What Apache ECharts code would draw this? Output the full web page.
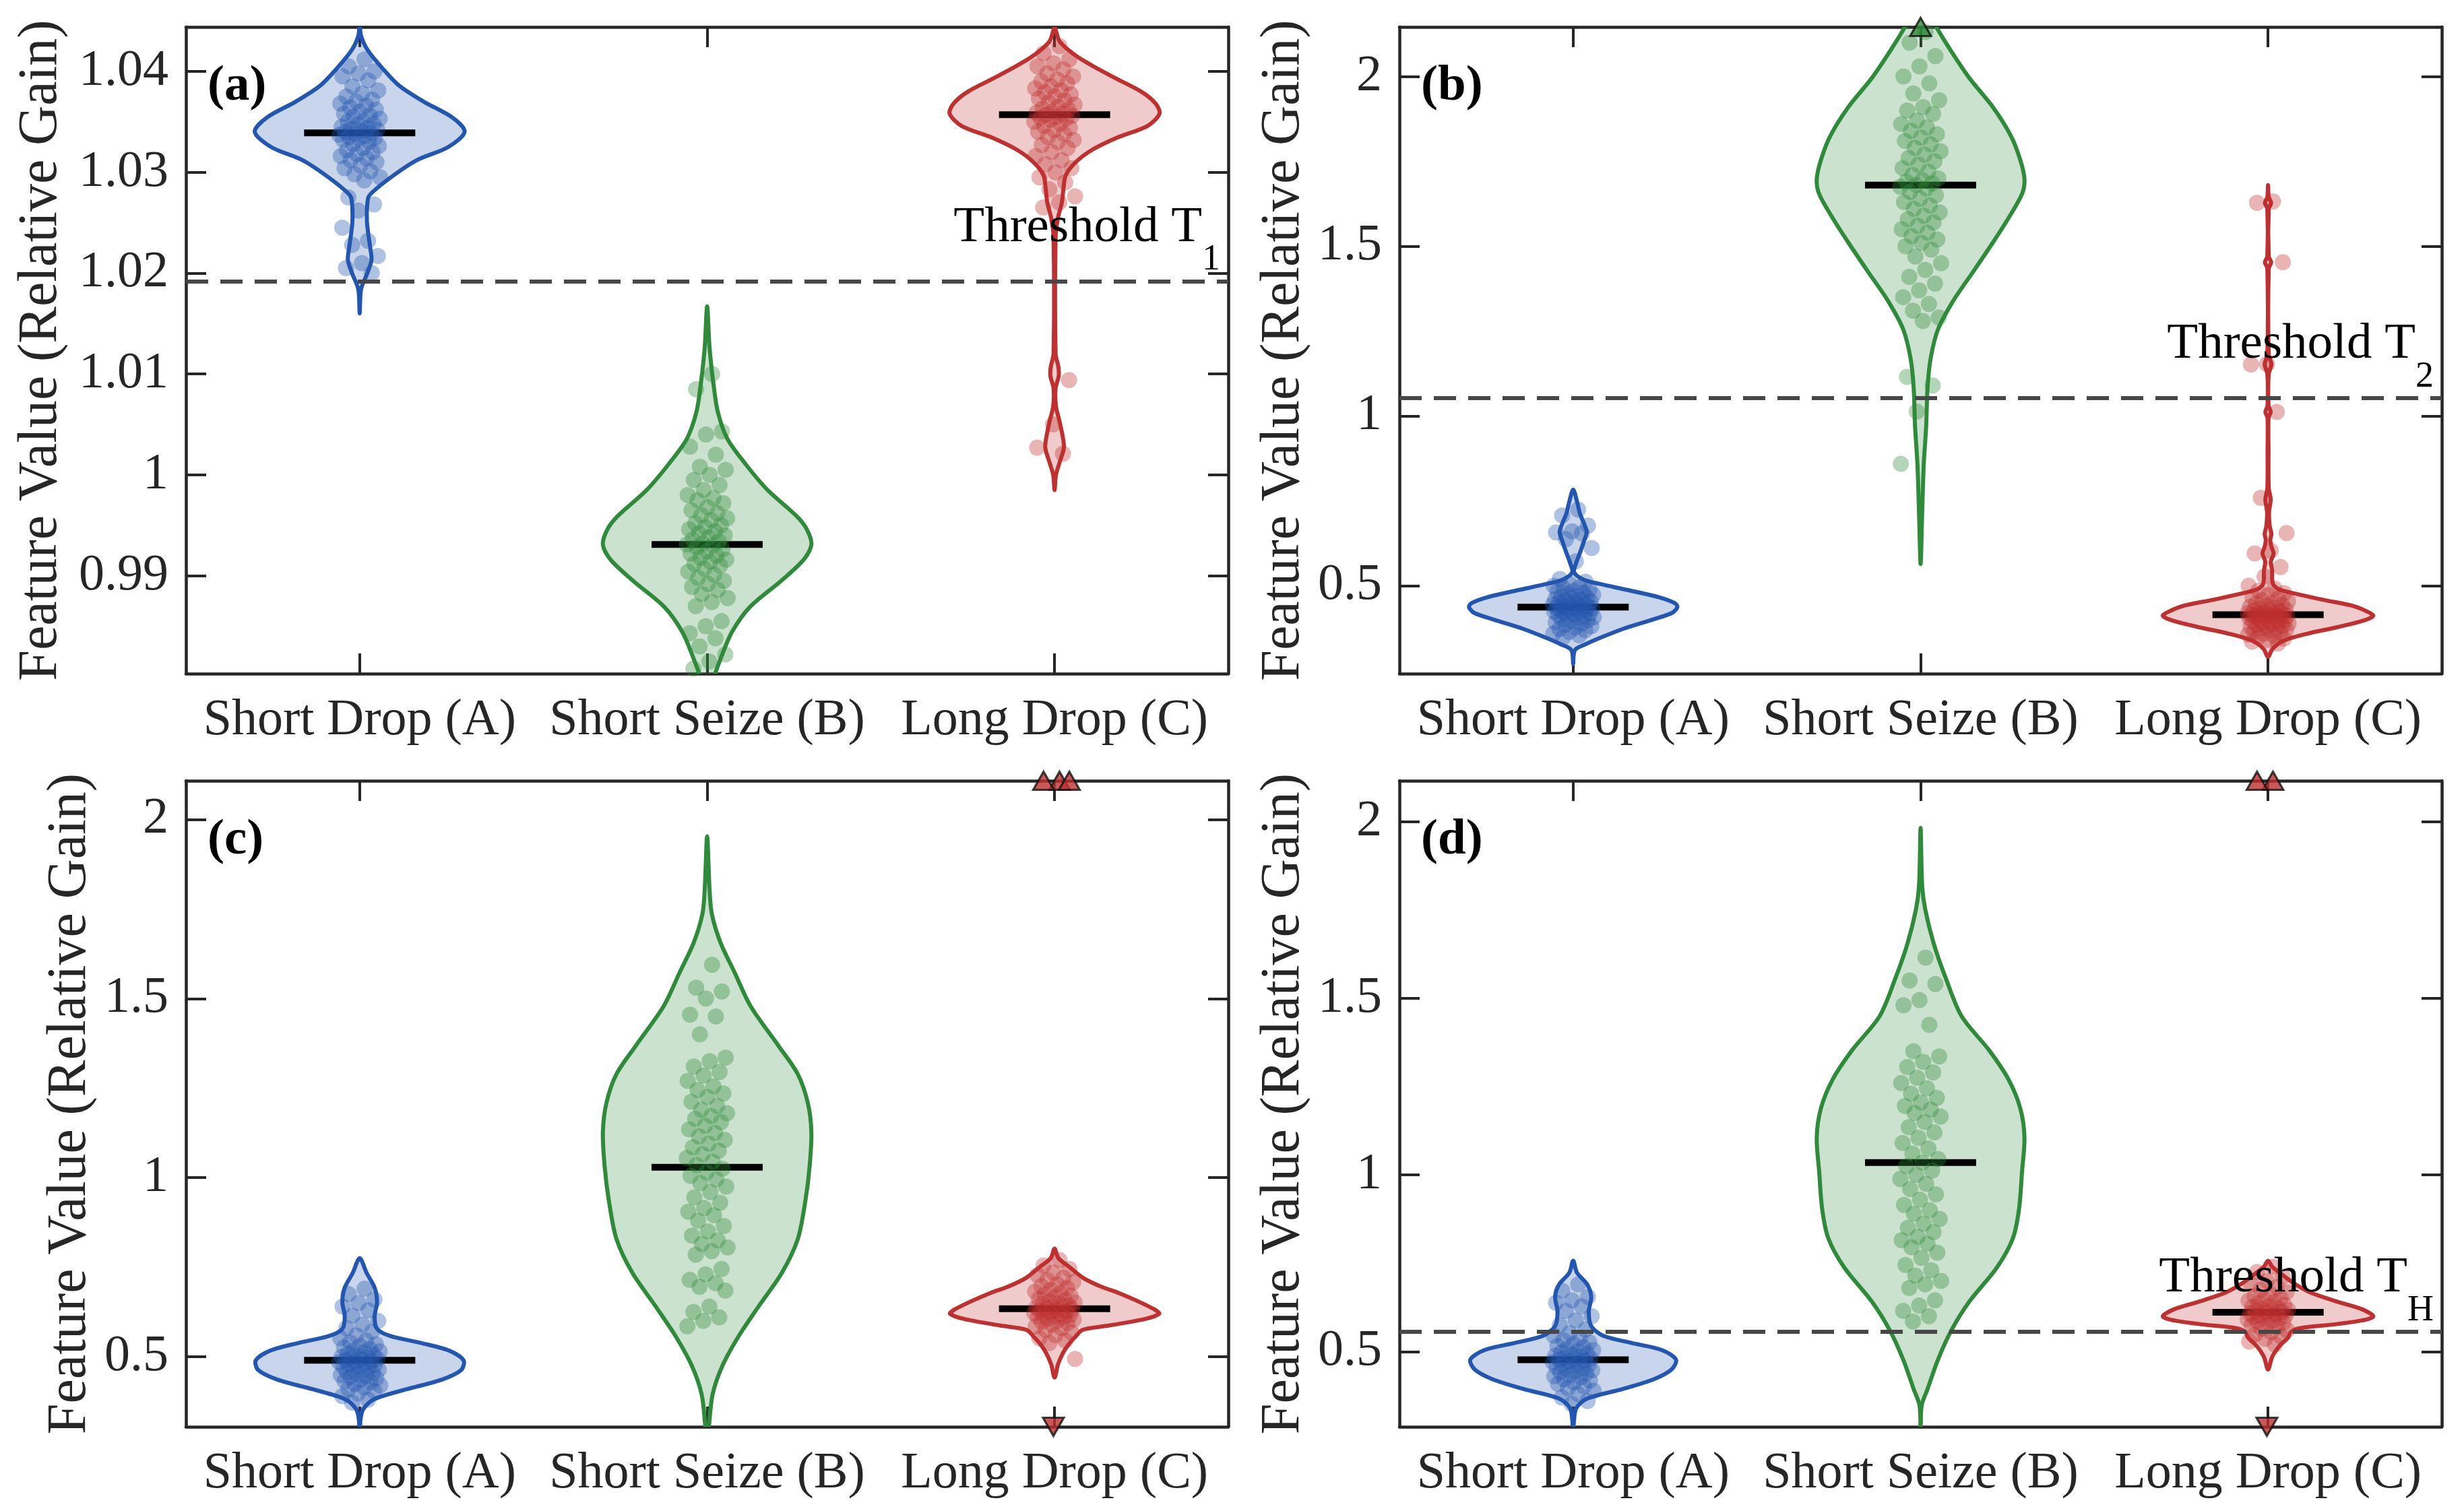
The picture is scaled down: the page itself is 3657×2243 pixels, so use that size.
<!DOCTYPE html>
<html>
<head>
<meta charset="utf-8">
<script src="https://cdn.jsdelivr.net/npm/echarts@6/dist/echarts.min.js"></script>
<style>html,body{margin:0;padding:0;background:#fff;}#chart{width:3657px;height:2243px;}</style>
</head>
<body>
<div id="chart"></div>
<script>
// ---------------- DATA ----------------
const categories = ['Short Drop (A)', 'Short Seize (B)', 'Long Drop (C)'];
const panelLetters = ['(a)', '(b)', '(c)', '(d)'];
const yAxisTitle = 'Feature Value (Relative Gain)';
const thresholdText = 'Threshold T';

const yRanges = [[0.9803, 1.0444], [0.241, 2.146], [0.3045, 2.108], [0.287, 2.1155]];
const yTickValues = [[0.99, 1.00, 1.01, 1.02, 1.03, 1.04], [0.5, 1, 1.5, 2], [0.5, 1, 1.5, 2], [0.5, 1, 1.5, 2]];
const thresholdValues = [1.0192, 1.0527, null, 0.5561];
const thresholdSubs = ['1', '2', null, 'H'];

const medians = [
  [1.0339, 0.9931, 1.0357],
  [0.437, 1.680, 0.4146],
  [0.490, 1.029, 0.634],
  [0.4766, 1.035, 0.611]
];

// scatter values
const a_A_pts = [1.0412,1.0405,1.0400,1.0398,1.0395,1.0391,1.0385,1.0381,1.0378,1.0375,1.0372,1.0370,1.0368,1.0366,1.0364,1.0362,1.0360,1.0358,1.0356,1.0355,1.0353,1.0351,1.0350,1.0348,1.0347,1.0345,1.0344,1.0343,1.0342,1.0341,1.0340,1.0339,1.0338,1.0337,1.0336,1.0335,1.0334,1.0333,1.0332,1.0330,1.0328,1.0326,1.0324,1.0322,1.0320,1.0318,1.0316,1.0314,1.0312,1.0310,1.0307,1.0304,1.0301,1.0298,1.0295,1.0292,1.0275,1.0268,1.0262,1.0245,1.0232,1.0228,1.0217,1.0210,1.0205,1.0200];
const a_B_pts = [1.0100,1.0085,1.0043,1.0040,1.0028,1.0020,1.0008,1.0005,1.0000,0.9995,0.9990,0.9985,0.9980,0.9977,0.9975,0.9972,0.9968,0.9965,0.9962,0.9960,0.9957,0.9955,0.9952,0.9950,0.9948,0.9946,0.9944,0.9942,0.9940,0.9938,0.9936,0.9934,0.9932,0.9931,0.9930,0.9928,0.9926,0.9924,0.9922,0.9920,0.9918,0.9916,0.9914,0.9912,0.9910,0.9907,0.9904,0.9901,0.9898,0.9895,0.9892,0.9889,0.9886,0.9882,0.9878,0.9874,0.9870,0.9855,0.9850,0.9843,0.9838,0.9830,0.9822,0.9815,0.9808];
const a_C_pts = [1.0425,1.0418,1.0412,1.0408,1.0405,1.0402,1.0398,1.0395,1.0392,1.0390,1.0388,1.0385,1.0383,1.0381,1.0379,1.0377,1.0375,1.0373,1.0371,1.0369,1.0367,1.0365,1.0363,1.0362,1.0360,1.0359,1.0358,1.0357,1.0356,1.0355,1.0354,1.0353,1.0352,1.0350,1.0348,1.0346,1.0344,1.0342,1.0340,1.0338,1.0335,1.0332,1.0330,1.0327,1.0324,1.0320,1.0316,1.0312,1.0308,1.0304,1.0300,1.0295,1.0290,1.0283,1.0276,1.0270,1.0265,1.0094,1.0050,1.0027,1.0021];

const b_A_pts = [0.724,0.707,0.677,0.660,0.657,0.654,0.637,0.611,0.572,0.520,0.512,0.505,0.500,0.496,0.492,0.488,0.485,0.482,0.479,0.476,0.473,0.470,0.468,0.465,0.463,0.460,0.458,0.456,0.454,0.452,0.450,0.448,0.446,0.444,0.442,0.440,0.438,0.437,0.436,0.435,0.434,0.433,0.432,0.430,0.428,0.426,0.424,0.422,0.420,0.418,0.416,0.414,0.412,0.410,0.407,0.404,0.401,0.398,0.395,0.392,0.389,0.385,0.381,0.377,0.373,0.369,0.364,0.359,0.354,0.348];
const b_B_pts = [2.131,2.10,2.06,2.03,2.00,1.98,1.95,1.93,1.91,1.90,1.89,1.87,1.86,1.85,1.84,1.83,1.82,1.81,1.80,1.79,1.78,1.77,1.76,1.75,1.74,1.73,1.72,1.71,1.70,1.695,1.69,1.685,1.68,1.675,1.67,1.66,1.65,1.64,1.63,1.62,1.61,1.60,1.59,1.58,1.57,1.56,1.55,1.54,1.53,1.52,1.51,1.50,1.49,1.47,1.45,1.43,1.41,1.39,1.37,1.35,1.33,1.31,1.29,1.28,1.115,1.09,1.013,0.859];
const b_C_pts = [1.632,1.628,1.453,1.153,1.152,1.012,0.759,0.655,0.603,0.595,0.555,0.527,0.500,0.492,0.485,0.478,0.472,0.467,0.462,0.458,0.454,0.450,0.447,0.444,0.441,0.438,0.435,0.432,0.430,0.428,0.426,0.424,0.422,0.420,0.418,0.417,0.416,0.415,0.414,0.413,0.412,0.411,0.410,0.409,0.408,0.407,0.405,0.403,0.401,0.399,0.397,0.395,0.393,0.391,0.389,0.387,0.385,0.383,0.381,0.379,0.377,0.374,0.371,0.368,0.365,0.362,0.359,0.356,0.352,0.348,0.344,0.340,0.335,0.330];

const c_A_pts = [0.690,0.675,0.660,0.650,0.640,0.630,0.615,0.600,0.590,0.580,0.570,0.560,0.552,0.545,0.540,0.535,0.530,0.526,0.522,0.518,0.515,0.512,0.509,0.506,0.503,0.500,0.498,0.496,0.494,0.492,0.490,0.488,0.486,0.484,0.482,0.480,0.478,0.476,0.473,0.470,0.467,0.464,0.461,0.458,0.455,0.452,0.449,0.446,0.443,0.440,0.436,0.432,0.428,0.424,0.420,0.415,0.410,0.404,0.398,0.390,0.380,0.372];
const c_B_pts = [1.594,1.530,1.520,1.500,1.455,1.450,1.400,1.335,1.325,1.310,1.295,1.285,1.270,1.255,1.245,1.235,1.225,1.212,1.200,1.190,1.180,1.172,1.165,1.155,1.145,1.135,1.125,1.115,1.105,1.095,1.085,1.075,1.065,1.055,1.045,1.035,1.025,1.015,1.005,0.995,0.985,0.975,0.960,0.945,0.930,0.915,0.905,0.895,0.880,0.865,0.850,0.838,0.825,0.815,0.805,0.795,0.785,0.745,0.730,0.715,0.705,0.695,0.685,0.640,0.625,0.610,0.600,0.585];
const c_C_pts = [0.770,0.755,0.745,0.735,0.728,0.720,0.714,0.708,0.702,0.697,0.692,0.687,0.682,0.678,0.674,0.670,0.666,0.662,0.658,0.655,0.652,0.649,0.646,0.643,0.640,0.638,0.636,0.634,0.632,0.630,0.628,0.626,0.624,0.622,0.620,0.618,0.616,0.614,0.612,0.610,0.607,0.604,0.601,0.598,0.594,0.590,0.585,0.580,0.575,0.568,0.560,0.552,0.545,0.538,0.494];

const d_A_pts = [0.690,0.672,0.655,0.645,0.638,0.628,0.615,0.600,0.588,0.575,0.562,0.552,0.545,0.538,0.532,0.526,0.521,0.516,0.512,0.508,0.504,0.500,0.497,0.494,0.491,0.488,0.485,0.482,0.480,0.478,0.476,0.474,0.472,0.470,0.468,0.465,0.462,0.459,0.456,0.453,0.450,0.447,0.444,0.441,0.438,0.434,0.430,0.426,0.422,0.418,0.413,0.408,0.402,0.396,0.389,0.380,0.370,0.360,0.352];
const d_B_pts = [1.615,1.550,1.540,1.495,1.480,1.425,1.350,1.335,1.320,1.305,1.290,1.275,1.260,1.245,1.230,1.218,1.205,1.195,1.185,1.175,1.165,1.150,1.135,1.120,1.105,1.090,1.075,1.060,1.045,1.035,1.025,1.012,1.000,0.988,0.975,0.960,0.945,0.930,0.915,0.900,0.890,0.875,0.862,0.850,0.838,0.825,0.815,0.805,0.795,0.780,0.765,0.745,0.730,0.715,0.700,0.690,0.680,0.645,0.630,0.615,0.600,0.585];
const d_C_pts = [0.740,0.725,0.712,0.700,0.690,0.682,0.675,0.668,0.662,0.657,0.652,0.648,0.644,0.640,0.636,0.632,0.629,0.626,0.623,0.620,0.618,0.616,0.614,0.612,0.610,0.608,0.606,0.604,0.602,0.600,0.598,0.596,0.594,0.591,0.588,0.585,0.582,0.578,0.574,0.570,0.565,0.560,0.555,0.549,0.543,0.536,0.528,0.520];

// values beyond the axis range (drawn as triangles at the axis edge)
const b_B_above = [2.25];
const c_C_above = [2.45, 2.70, 3.00];
const c_C_below = [0.22];
const d_C_above = [2.50, 2.90];
const d_C_below = [0.20];

// violin density profiles: [value, half-width]
const a_A_violin = [[1.0446,0],[1.0435,0.004],[1.0421,0.023],[1.0402,0.068],[1.0386,0.113],[1.0370,0.184],[1.0354,0.268],[1.0340,0.302],[1.0325,0.255],[1.0312,0.165],[1.0296,0.094],[1.0280,0.036],[1.0274,0.024],[1.0251,0.021],[1.0226,0.030],[1.0213,0.034],[1.0200,0.022],[1.0184,0.004],[1.0160,0]];
const a_B_violin = [[1.0167,0],[1.0126,0.007],[1.0088,0.019],[1.0062,0.031],[1.0036,0.058],[1.0011,0.110],[0.9985,0.174],[0.9959,0.258],[0.9946,0.287],[0.9931,0.300],[0.9916,0.278],[0.9895,0.213],[0.9869,0.123],[0.9844,0.071],[0.9818,0.039],[0.9803,0.023],[0.9790,0.012],[0.9780,0]];
const a_C_violin = [[1.0446,0],[1.0440,0.004],[1.0429,0.016],[1.0414,0.068],[1.0395,0.165],[1.0380,0.249],[1.0368,0.291],[1.0358,0.302],[1.0346,0.268],[1.0334,0.178],[1.0322,0.107],[1.0310,0.061],[1.0297,0.032],[1.0285,0.026],[1.0270,0.021],[1.0255,0.010],[1.0236,0.003],[1.0120,0.003],[1.0107,0.011],[1.0098,0.012],[1.0086,0.003],[1.0068,0.004],[1.0052,0.015],[1.0028,0.027],[1.0013,0.015],[1.0000,0.004],[0.9985,0]];

const b_A_violin = [[0.783,0],[0.744,0.012],[0.711,0.020],[0.684,0.031],[0.658,0.039],[0.631,0.031],[0.598,0.020],[0.565,0.008],[0.539,0.003],[0.519,0.028],[0.506,0.073],[0.486,0.163],[0.466,0.247],[0.449,0.292],[0.4375,0.300],[0.420,0.285],[0.400,0.228],[0.373,0.144],[0.347,0.079],[0.327,0.034],[0.314,0.008],[0.300,0.002],[0.270,0]];
const b_B_violin = [[2.24,0],[2.19,0.022],[2.146,0.045],[2.081,0.084],[1.996,0.140],[1.910,0.208],[1.825,0.260],[1.754,0.287],[1.697,0.299],[1.654,0.292],[1.583,0.253],[1.511,0.208],[1.426,0.152],[1.341,0.095],[1.255,0.050],[1.170,0.029],[1.084,0.020],[0.970,0.016],[0.856,0.009],[0.714,0.0045],[0.564,0]];
const b_C_violin = [[1.680,0],[1.645,0.002],[1.628,0.009],[1.610,0.002],[1.470,0.002],[1.453,0.009],[1.435,0.002],[1.180,0.002],[1.1525,0.0097],[1.124,0.002],[1.030,0.0015],[1.012,0.0077],[0.995,0.0015],[0.900,0.0013],[0.787,0.002],[0.755,0.0077],[0.720,0.003],[0.699,0.003],[0.675,0.005],[0.6525,0.0097],[0.635,0.0065],[0.615,0.0097],[0.595,0.016],[0.571,0.008],[0.547,0.0116],[0.506,0.014],[0.489,0.032],[0.474,0.090],[0.458,0.161],[0.442,0.239],[0.426,0.281],[0.4117,0.303],[0.398,0.277],[0.378,0.200],[0.358,0.110],[0.338,0.045],[0.314,0.013],[0.290,0]];

const c_A_violin = [[0.775,0],[0.734,0.020],[0.693,0.043],[0.653,0.050],[0.612,0.043],[0.578,0.050],[0.558,0.088],[0.538,0.179],[0.517,0.258],[0.490,0.299],[0.463,0.292],[0.436,0.236],[0.409,0.134],[0.382,0.043],[0.355,0.011],[0.330,0.003],[0.290,0]];
const c_B_violin = [[1.953,0],[1.804,0.007],[1.736,0.0136],[1.655,0.039],[1.573,0.079],[1.479,0.125],[1.370,0.204],[1.289,0.261],[1.208,0.290],[1.127,0.300],[1.032,0.295],[0.937,0.283],[0.829,0.261],[0.734,0.215],[0.639,0.147],[0.558,0.091],[0.477,0.045],[0.396,0.016],[0.303,0.005],[0.250,0]];
const c_C_violin = [[0.802,0],[0.7755,0.011],[0.7512,0.042],[0.7209,0.081],[0.6966,0.132],[0.6784,0.184],[0.6541,0.242],[0.6323,0.287],[0.6201,0.301],[0.6056,0.261],[0.5874,0.158],[0.5752,0.081],[0.557,0.061],[0.5328,0.039],[0.5085,0.023],[0.4782,0.0097],[0.4417,0]];

const d_A_violin = [[0.757,0],[0.723,0.011],[0.689,0.041],[0.655,0.052],[0.613,0.045],[0.572,0.052],[0.545,0.086],[0.525,0.165],[0.504,0.256],[0.477,0.296],[0.449,0.283],[0.422,0.233],[0.394,0.143],[0.367,0.041],[0.340,0.009],[0.300,0.002],[0.270,0]];
const d_B_violin = [[1.982,0],[1.818,0.0045],[1.750,0.0136],[1.654,0.038],[1.558,0.072],[1.449,0.118],[1.353,0.197],[1.270,0.253],[1.188,0.287],[1.106,0.299],[1.010,0.292],[0.901,0.283],[0.819,0.265],[0.737,0.219],[0.641,0.140],[0.559,0.088],[0.477,0.050],[0.394,0.020],[0.347,0.003],[0.270,0]];
const d_C_violin = [[0.757,0],[0.740,0.012],[0.723,0.034],[0.696,0.070],[0.668,0.120],[0.641,0.200],[0.620,0.270],[0.600,0.303],[0.590,0.280],[0.578,0.200],[0.566,0.090],[0.555,0.065],[0.540,0.058],[0.516,0.033],[0.485,0.012],[0.449,0]];

// ---------------- STYLE / LAYOUT ----------------
const FONT = '"Liberation Serif", "Times New Roman", serif';
const groupColors = ['#2356B0', '#2F8A3B', '#BF3030'];
const frameColor = '#262626';
const gridBoxes = [
  {left: 276, top: 40, width: 1547, height: 960},
  {left: 2077, top: 40, width: 1547, height: 960},
  {left: 276, top: 1159, width: 1547, height: 959},
  {left: 2077, top: 1159, width: 1547, height: 959}
];
const nameGaps = [174, 131, 131, 131];

const panelPts = [[a_A_pts, a_B_pts, a_C_pts], [b_A_pts, b_B_pts, b_C_pts], [c_A_pts, c_B_pts, c_C_pts], [d_A_pts, d_B_pts, d_C_pts]];
const panelViolins = [[a_A_violin, a_B_violin, a_C_violin], [b_A_violin, b_B_violin, b_C_violin], [c_A_violin, c_B_violin, c_C_violin], [d_A_violin, d_B_violin, d_C_violin]];
const panelAbove = [[[], [], []], [[], b_B_above, []], [[], [], c_C_above], [[], [], d_C_above]];
const panelBelow = [[[], [], []], [[], [], []], [[], [], c_C_below], [[], [], d_C_below]];

function rgba(hex, a) {
  const n = parseInt(hex.slice(1), 16);
  return 'rgba(' + ((n >> 16) & 255) + ',' + ((n >> 8) & 255) + ',' + (n & 255) + ',' + a + ')';
}
function jitter(i) { return ((((i + 1) * 0.6180339887) % 1) - 0.5) * 0.12; }

const chart = echarts.init(document.getElementById('chart'), null, {renderer: 'canvas', width: 3657, height: 2243});

const grid = [], xAxis = [], yAxis = [], series = [];
for (let p = 0; p < 4; p++) {
  grid.push(Object.assign({containLabel: false}, gridBoxes[p]));
  const tickStyle = {show: true, inside: true, length: 30, lineStyle: {color: frameColor, width: 4}};
  const lineStyle = {show: true, onZero: false, lineStyle: {color: frameColor, width: 4.5}};
  xAxis.push({
    gridIndex: p, type: 'value', min: 0.5, max: 3.5, position: 'bottom',
    axisLine: lineStyle, splitLine: {show: false},
    axisTick: Object.assign({customValues: [1, 2, 3]}, tickStyle),
    axisLabel: {customValues: [1, 2, 3], formatter: v => categories[Math.round(v) - 1],
      fontSize: 76, fontFamily: FONT, color: frameColor, margin: 32}
  });
  xAxis.push({
    gridIndex: p, type: 'value', min: 0.5, max: 3.5, position: 'top',
    axisLine: lineStyle, splitLine: {show: false},
    axisTick: Object.assign({customValues: [1, 2, 3]}, tickStyle),
    axisLabel: {show: false}
  });
  const fmt = p === 0 ? (v => (Math.abs(v - 1) < 1e-9 ? '1' : v.toFixed(2))) : (v => String(v));
  yAxis.push({
    gridIndex: p, type: 'value', min: yRanges[p][0], max: yRanges[p][1], position: 'left',
    axisLine: lineStyle, splitLine: {show: false},
    axisTick: Object.assign({customValues: yTickValues[p]}, tickStyle),
    axisLabel: {customValues: yTickValues[p], formatter: fmt, fontSize: 76, fontFamily: FONT, color: frameColor, margin: 26},
    name: yAxisTitle, nameLocation: 'middle', nameGap: nameGaps[p],
    nameTextStyle: {fontSize: 82, fontFamily: FONT, color: frameColor}
  });
  yAxis.push({
    gridIndex: p, type: 'value', min: yRanges[p][0], max: yRanges[p][1], position: 'right',
    axisLine: lineStyle, splitLine: {show: false},
    axisTick: Object.assign({customValues: yTickValues[p]}, tickStyle),
    axisLabel: {show: false}
  });

  for (let g = 0; g < 3; g++) {
    const color = groupColors[g];
    const center = g + 1;
    const profile = panelViolins[p][g];
    // violin body
    series.push({
      type: 'custom', xAxisIndex: 2 * p, yAxisIndex: 2 * p, clip: true, z: 1, silent: true,
      data: [0],
      renderItem: function (params, api) {
        const pts = [];
        for (let i = 0; i < profile.length; i++) pts.push(api.coord([center - profile[i][1], profile[i][0]]));
        for (let i = profile.length - 1; i >= 0; i--) {
          if (profile[i][1] > 0) pts.push(api.coord([center + profile[i][1], profile[i][0]]));
        }
        return {type: 'polygon', shape: {points: pts, smooth: 0.3},
          style: {fill: rgba(color, 0.25), stroke: color, lineWidth: 6, lineJoin: 'round'}};
      }
    });
    // median bar
    const med = medians[p][g];
    series.push({
      type: 'custom', xAxisIndex: 2 * p, yAxisIndex: 2 * p, clip: true, z: 2, silent: true,
      data: [med],
      renderItem: function (params, api) {
        const a = api.coord([center - 0.16, api.value(0)]);
        const b = api.coord([center + 0.16, api.value(0)]);
        return {type: 'line', shape: {x1: a[0], y1: a[1], x2: b[0], y2: b[1]},
          style: {stroke: '#000', lineWidth: 10, lineCap: 'butt'}};
      }
    });
    // scatter points
    const sc = {
      type: 'scatter', xAxisIndex: 2 * p, yAxisIndex: 2 * p, z: 4, silent: true,
      symbol: 'circle', symbolSize: 24,
      itemStyle: {color: rgba(color, 0.45)},
      data: panelPts[p][g].map((v, i) => [center + jitter(i), v])
    };
    if (g === 2 && thresholdValues[p] !== null) {
      sc.markLine = {
        silent: true, symbol: ['none', 'none'], label: {show: false}, precision: 6,
        lineStyle: {color: '#474747', width: 6, type: [33, 18]},
        data: [{yAxis: thresholdValues[p]}]
      };
    }
    series.push(sc);
    // out-of-range markers
    const above = panelAbove[p][g], below = panelBelow[p][g];
    if (above.length) {
      series.push({
        type: 'scatter', xAxisIndex: 2 * p, yAxisIndex: 2 * p, z: 6, silent: true, clip: false,
        symbol: 'triangle', symbolSize: [31, 27],
        itemStyle: {color: color, borderColor: '#111', borderWidth: 3},
        data: above.map((v, i) => [center + (above.length > 1 ? jitter(i) : 0), Math.min(v, yRanges[p][1])])
      });
    }
    if (below.length) {
      series.push({
        type: 'scatter', xAxisIndex: 2 * p, yAxisIndex: 2 * p, z: 6, silent: true, clip: false,
        symbol: 'triangle', symbolSize: [31, 27], symbolRotate: 180,
        itemStyle: {color: color, borderColor: '#111', borderWidth: 3},
        data: below.map((v, i) => [center + jitter(i + 3), Math.max(v, yRanges[p][0])])
      });
    }
  }
}

chart.setOption({
  backgroundColor: '#ffffff',
  animation: false,
  grid: grid, xAxis: xAxis, yAxis: yAxis, series: series
});

// ---------------- annotations ----------------
const mctx = document.createElement('canvas').getContext('2d');
const SUB_SIZE = 54, MAIN_SIZE = 75;
const graphics = [];
for (let p = 0; p < 4; p++) {
  const box = gridBoxes[p];
  graphics.push({
    type: 'text', x: box.left + 32, y: box.top + 89, z: 100, silent: true,
    style: {text: panelLetters[p], fontSize: 75, fontWeight: 'bold', fontFamily: FONT, fill: '#000',
      align: 'left', textAlign: 'left', verticalAlign: 'middle', textVerticalAlign: 'middle'}
  });
  if (thresholdValues[p] !== null) {
    const pt = chart.convertToPixel({xAxisIndex: 2 * p, yAxisIndex: 2 * p}, [3.5, thresholdValues[p]]);
    mctx.font = SUB_SIZE + 'px ' + FONT;
    const subW = mctx.measureText(thresholdSubs[p]).width;
    const right = pt[0] - 12;
    const mainBase = pt[1] - 54;
    const subBase = pt[1] - 13;
    graphics.push({
      type: 'text', x: right - subW, y: mainBase - 0.3375 * MAIN_SIZE, z: 100, silent: true,
      style: {text: thresholdText, fontSize: MAIN_SIZE, fontFamily: FONT, fill: '#000',
        align: 'right', textAlign: 'right', verticalAlign: 'middle', textVerticalAlign: 'middle'}
    });
    graphics.push({
      type: 'text', x: right - subW, y: subBase - 0.3375 * SUB_SIZE, z: 100, silent: true,
      style: {text: thresholdSubs[p], fontSize: SUB_SIZE, fontFamily: FONT, fill: '#000',
        align: 'left', textAlign: 'left', verticalAlign: 'middle', textVerticalAlign: 'middle'}
    });
  }
}
chart.setOption({graphic: graphics});
</script>
</body>
</html>
